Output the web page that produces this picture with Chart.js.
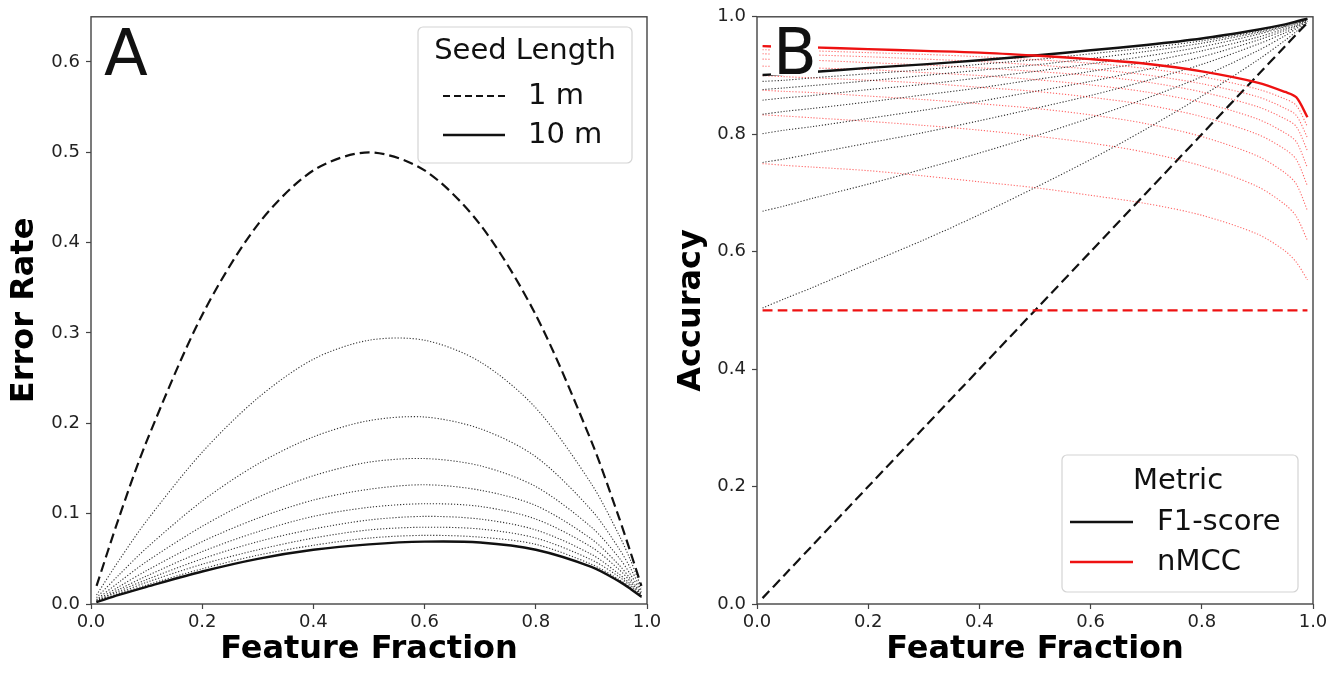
<!DOCTYPE html>
<html>
<head>
<meta charset="utf-8">
<script src="https://cdn.jsdelivr.net/npm/chart.js@4.4.1/dist/chart.umd.min.js"></script>
<style>
    html, body { margin: 0; padding: 0; background: #fff; }
    .panel { position: absolute; top: 0; width: 670px; height: 673px; }
    #panelA { left: 0; }
    #panelB { left: 670px; }
</style>
</head>
<body>
<div class="panel" id="panelA"><canvas id="chartA" width="670" height="673"></canvas></div>
<div class="panel" id="panelB"><canvas id="chartB" width="670" height="673"></canvas></div>
<script>
// feature fraction samples (x)
const featureFraction = [0.01, 0.05, 0.1, 0.2, 0.3, 0.4, 0.5, 0.6, 0.7, 0.8, 0.9, 0.95, 0.97, 0.99];

// Panel A: error rate per seed length (1 m .. 10 m)
const errSeed1  = [0.020, 0.095, 0.180, 0.320, 0.420, 0.480, 0.500, 0.480, 0.420, 0.320, 0.180, 0.095, 0.058, 0.020];
const errSeed2  = [0.010, 0.048, 0.092, 0.168, 0.228, 0.271, 0.292, 0.292, 0.268, 0.217, 0.133, 0.076, 0.049, 0.018];
const errSeed3  = [0.007, 0.032, 0.062, 0.114, 0.155, 0.185, 0.203, 0.207, 0.194, 0.163, 0.104, 0.061, 0.040, 0.015];
const errSeed4  = [0.005, 0.024, 0.047, 0.086, 0.118, 0.142, 0.157, 0.161, 0.153, 0.130, 0.085, 0.051, 0.033, 0.013];
const errSeed5  = [0.004, 0.019, 0.037, 0.069, 0.095, 0.115, 0.127, 0.132, 0.126, 0.109, 0.072, 0.043, 0.028, 0.011];
const errSeed6  = [0.003, 0.016, 0.031, 0.058, 0.080, 0.097, 0.107, 0.111, 0.108, 0.094, 0.063, 0.038, 0.025, 0.010];
const errSeed7  = [0.003, 0.014, 0.027, 0.050, 0.069, 0.083, 0.093, 0.097, 0.094, 0.082, 0.055, 0.033, 0.022, 0.009];
const errSeed8  = [0.002, 0.012, 0.024, 0.044, 0.060, 0.073, 0.082, 0.085, 0.083, 0.073, 0.049, 0.030, 0.020, 0.008];
const errSeed9  = [0.002, 0.011, 0.021, 0.039, 0.054, 0.065, 0.073, 0.076, 0.074, 0.066, 0.044, 0.027, 0.018, 0.007];
const errSeed10 = [0.002, 0.010, 0.019, 0.036, 0.050, 0.060, 0.066, 0.069, 0.068, 0.060, 0.041, 0.025, 0.017, 0.008];

// Panel B: F1-score per seed length
const f1Seed1  = [0.010, 0.050, 0.100, 0.200, 0.300, 0.400, 0.500, 0.600, 0.700, 0.800, 0.900, 0.950, 0.970, 0.990];
const f1Seed2  = [0.504, 0.520, 0.539, 0.580, 0.620, 0.663, 0.709, 0.757, 0.809, 0.865, 0.926, 0.960, 0.975, 0.991];
const f1Seed3  = [0.669, 0.678, 0.691, 0.715, 0.741, 0.768, 0.797, 0.828, 0.861, 0.898, 0.942, 0.968, 0.980, 0.992];
const f1Seed4  = [0.752, 0.758, 0.767, 0.785, 0.803, 0.823, 0.844, 0.866, 0.891, 0.919, 0.953, 0.973, 0.983, 0.993];
const f1Seed5  = [0.801, 0.807, 0.813, 0.827, 0.841, 0.856, 0.873, 0.890, 0.910, 0.932, 0.960, 0.977, 0.985, 0.994];
const f1Seed6  = [0.834, 0.839, 0.844, 0.855, 0.867, 0.879, 0.893, 0.907, 0.923, 0.942, 0.965, 0.980, 0.987, 0.995];
const f1Seed7  = [0.858, 0.862, 0.866, 0.876, 0.885, 0.896, 0.907, 0.920, 0.933, 0.949, 0.970, 0.983, 0.989, 0.995];
const f1Seed8  = [0.876, 0.879, 0.883, 0.891, 0.900, 0.909, 0.918, 0.929, 0.941, 0.955, 0.973, 0.984, 0.990, 0.996];
const f1Seed9  = [0.890, 0.892, 0.896, 0.903, 0.910, 0.919, 0.927, 0.937, 0.947, 0.959, 0.975, 0.986, 0.991, 0.996];
const f1Seed10 = [0.901, 0.903, 0.906, 0.913, 0.919, 0.926, 0.934, 0.943, 0.952, 0.963, 0.978, 0.987, 0.992, 0.997];

// Panel B: nMCC per seed length
const mccSeed1  = [0.500, 0.500, 0.500, 0.500, 0.500, 0.500, 0.500, 0.500, 0.500, 0.500, 0.500, 0.500, 0.500, 0.500];
const mccSeed2  = [0.750, 0.747, 0.744, 0.738, 0.729, 0.719, 0.709, 0.696, 0.682, 0.662, 0.630, 0.601, 0.582, 0.552];
const mccSeed3  = [0.833, 0.831, 0.828, 0.822, 0.815, 0.807, 0.797, 0.785, 0.769, 0.746, 0.711, 0.680, 0.660, 0.619];
const mccSeed4  = [0.875, 0.873, 0.871, 0.865, 0.859, 0.852, 0.844, 0.833, 0.818, 0.796, 0.763, 0.734, 0.715, 0.670];
const mccSeed5  = [0.900, 0.898, 0.896, 0.892, 0.887, 0.880, 0.873, 0.863, 0.850, 0.830, 0.800, 0.774, 0.757, 0.712];
const mccSeed6  = [0.916, 0.915, 0.913, 0.910, 0.905, 0.900, 0.893, 0.884, 0.872, 0.854, 0.826, 0.802, 0.787, 0.743];
const mccSeed7  = [0.928, 0.927, 0.926, 0.922, 0.918, 0.913, 0.907, 0.900, 0.889, 0.872, 0.847, 0.826, 0.813, 0.772];
const mccSeed8  = [0.937, 0.936, 0.935, 0.932, 0.928, 0.924, 0.918, 0.911, 0.901, 0.886, 0.864, 0.844, 0.832, 0.794];
const mccSeed9  = [0.944, 0.943, 0.942, 0.939, 0.936, 0.932, 0.927, 0.921, 0.912, 0.898, 0.877, 0.860, 0.849, 0.813];
const mccSeed10 = [0.950, 0.949, 0.948, 0.945, 0.942, 0.939, 0.934, 0.928, 0.920, 0.907, 0.888, 0.872, 0.863, 0.829];

// tick values and labels
const xTickValues = [0, 0.2, 0.4, 0.6, 0.8, 1.0];
const xTickLabels = ['0.0', '0.2', '0.4', '0.6', '0.8', '1.0'];
const errTickValues = [0, 0.1, 0.2, 0.3, 0.4, 0.5, 0.6];
const errTickLabels = ['0.0', '0.1', '0.2', '0.3', '0.4', '0.5', '0.6'];
const accTickValues = [0, 0.2, 0.4, 0.6, 0.8, 1.0];
const accTickLabels = ['0.0', '0.2', '0.4', '0.6', '0.8', '1.0'];

const errSeries = [errSeed1, errSeed2, errSeed3, errSeed4, errSeed5, errSeed6, errSeed7, errSeed8, errSeed9, errSeed10];
const f1Series = [f1Seed1, f1Seed2, f1Seed3, f1Seed4, f1Seed5, f1Seed6, f1Seed7, f1Seed8, f1Seed9, f1Seed10];
const mccSeries = [mccSeed1, mccSeed2, mccSeed3, mccSeed4, mccSeed5, mccSeed6, mccSeed7, mccSeed8, mccSeed9, mccSeed10];

const FONT = "'DejaVu Sans', sans-serif";

document.addEventListener('DOMContentLoaded', () => {

    // seed length 1 -> dashed, 10 -> solid, everything between -> dotted
    function lineStyle(idx, color, dotColor) {
        if (idx === 0) return { borderColor: color, borderWidth: 2.2, borderDash: [10, 5] };
        if (idx === 9) return { borderColor: color, borderWidth: 2.4, borderDash: [] };
        return { borderColor: dotColor, borderWidth: 1.1, borderDash: [1.2, 1.8] };
    }

    function makeDataset(values, style) {
        return Object.assign({
            data: featureFraction.map((x, i) => ({ x: x, y: values[i] })),
            pointRadius: 0,
            fill: false,
            tension: 0.3
        }, style);
    }

    // frame, panel letter and legend drawn on top of the plot
    const panelDecor = {
        id: 'panelDecor',
        afterDraw(chart, args, opts) {
            const ctx = chart.ctx;
            const a = chart.chartArea;
            ctx.save();

            ctx.strokeStyle = '#444';
            ctx.lineWidth = 1.4;
            ctx.strokeRect(a.left, a.top, a.right - a.left, a.bottom - a.top);

            // panel letter on a white patch
            ctx.fillStyle = '#fff';
            ctx.fillRect(opts.letterBox[0], opts.letterBox[1], opts.letterBox[2], opts.letterBox[3]);
            ctx.fillStyle = '#111';
            ctx.font = '64px ' + FONT;
            ctx.textAlign = 'left';
            ctx.textBaseline = 'alphabetic';
            ctx.fillText(opts.letter, opts.letterX, opts.letterY);

            // legend box
            const lg = opts.legend;
            const [bx, by, bw, bh] = lg.box;
            ctx.fillStyle = 'rgba(255,255,255,0.85)';
            ctx.strokeStyle = '#d4d4d4';
            ctx.lineWidth = 1.2;
            ctx.beginPath();
            ctx.roundRect(bx, by, bw, bh, 5);
            ctx.fill();
            ctx.stroke();

            ctx.font = '29px ' + FONT;
            ctx.fillStyle = '#111';
            ctx.textAlign = 'center';
            ctx.textBaseline = 'middle';
            ctx.fillText(lg.title, lg.titleX, lg.titleY);

            ctx.textAlign = 'left';
            lg.entries.forEach(en => {
                ctx.beginPath();
                ctx.strokeStyle = en.color;
                ctx.lineWidth = en.width;
                ctx.setLineDash(en.dash);
                ctx.moveTo(lg.lineX0, en.y);
                ctx.lineTo(lg.lineX1, en.y);
                ctx.stroke();
                ctx.setLineDash([]);
                ctx.fillStyle = '#111';
                ctx.fillText(en.label, lg.textX, en.y);
            });

            ctx.restore();
        }
    };

    function axisX(height) {
        return {
            type: 'linear',
            min: 0,
            max: 1,
            afterBuildTicks: s => { s.ticks = xTickValues.map(v => ({ value: v })); },
            afterFit: s => { s.height = height; },
            ticks: {
                callback: (v, i) => xTickLabels[i],
                font: { family: FONT, size: 18 },
                color: '#222',
                padding: 3,
                maxRotation: 0
            },
            grid: { drawOnChartArea: false, drawTicks: true, tickLength: 5, tickColor: '#444', tickWidth: 1.2 },
            border: { display: false },
            title: {
                display: true,
                text: 'Feature Fraction',
                color: '#000',
                font: { family: FONT, size: 32, weight: 'bold', lineHeight: 1 },
                padding: { top: 0, bottom: 7 }
            }
        };
    }

    function axisY(width, max, tickValues, tickLabels, title, titlePad) {
        return {
            type: 'linear',
            min: 0,
            max: max,
            afterBuildTicks: s => { s.ticks = tickValues.map(v => ({ value: v })); },
            afterFit: s => { s.width = width; },
            ticks: {
                callback: (v, i) => tickLabels[i],
                font: { family: FONT, size: 18 },
                color: '#222',
                padding: 6
            },
            grid: { drawOnChartArea: false, drawTicks: true, tickLength: 5, tickColor: '#444', tickWidth: 1.2 },
            border: { display: false },
            title: {
                display: true,
                text: title,
                color: '#000',
                font: { family: FONT, size: 32, weight: 'bold', lineHeight: 1 },
                padding: { top: titlePad, bottom: 0 }
            }
        };
    }

    // ---- Panel A ----
    const dsA = errSeries.map((vals, i) => makeDataset(vals, lineStyle(i, '#111', 'rgba(0,0,0,0.8)')));
    dsA.reverse();

    new Chart(document.getElementById('chartA'), {
        type: 'line',
        data: { datasets: dsA },
        options: {
            responsive: false,
            animation: false,
            layout: { padding: { left: 0, right: 23, top: 12, bottom: 0 } },
            scales: {
                x: axisX(69),
                y: axisY(91, 0.65, errTickValues, errTickLabels, 'Error Rate', 9)
            },
            plugins: {
                legend: { display: false },
                tooltip: { enabled: false },
                panelDecor: {
                    letter: 'A',
                    letterX: 104,
                    letterY: 75,
                    letterBox: [100, 22, 52, 58],
                    legend: {
                        box: [418, 27, 214, 136],
                        title: 'Seed Length',
                        titleX: 525,
                        titleY: 51,
                        lineX0: 443,
                        lineX1: 505,
                        textX: 528,
                        entries: [
                            { label: '1 m', y: 96, color: '#111', width: 2, dash: [7, 4] },
                            { label: '10 m', y: 135, color: '#111', width: 2.4, dash: [] }
                        ]
                    }
                }
            }
        },
        plugins: [panelDecor]
    });

    // ---- Panel B ----
    const dsB = [];
    f1Series.forEach((vals, i) => {
        dsB.push(makeDataset(vals, lineStyle(i, '#111', 'rgba(0,0,0,0.8)')));
        dsB.push(makeDataset(mccSeries[i], lineStyle(i, '#ee1111', 'rgba(255,0,0,0.6)')));
    });
    dsB.reverse();

    new Chart(document.getElementById('chartB'), {
        type: 'line',
        data: { datasets: dsB },
        options: {
            responsive: false,
            animation: false,
            layout: { padding: { left: 0, right: 27, top: 12, bottom: 0 } },
            scales: {
                x: axisX(69),
                y: axisY(87, 1, accTickValues, accTickLabels, 'Accuracy', 6)
            },
            plugins: {
                legend: { display: false },
                tooltip: { enabled: false },
                panelDecor: {
                    letter: 'B',
                    letterX: 103,
                    letterY: 74,
                    letterBox: [101, 24, 47, 51],
                    legend: {
                        box: [392, 455, 236, 137],
                        title: 'Metric',
                        titleX: 508,
                        titleY: 481,
                        lineX0: 400,
                        lineX1: 463,
                        textX: 487,
                        entries: [
                            { label: 'F1-score', y: 522, color: '#111', width: 2.4, dash: [] },
                            { label: 'nMCC', y: 562, color: '#ee1111', width: 2.4, dash: [] }
                        ]
                    }
                }
            }
        },
        plugins: [panelDecor]
    });
});
</script>
</body>
</html>
